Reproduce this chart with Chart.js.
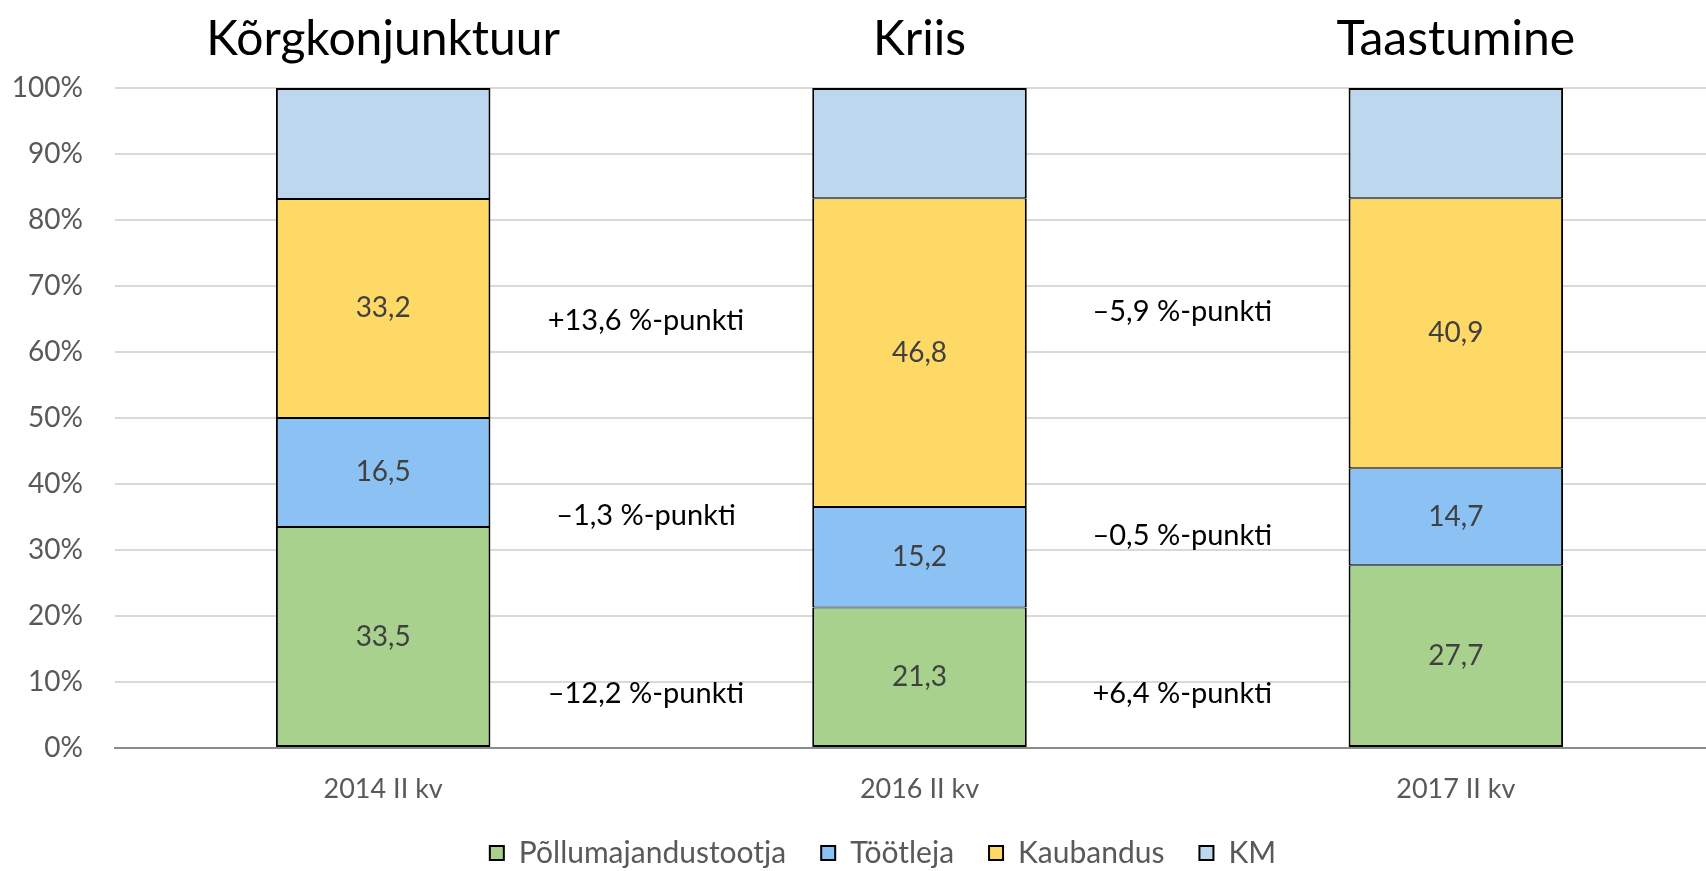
<!DOCTYPE html>
<html>
<head>
<meta charset="utf-8">
<script src="https://cdn.jsdelivr.net/npm/chart.js@4/dist/chart.umd.min.js"></script>
<style>
    html, body { margin: 0; padding: 0; background: #fff; overflow: hidden; }
    #wrap { width: 1726px; height: 878px; }
</style>
</head>
<body>
<div id="wrap"><canvas id="chart"></canvas></div>
<script>
// ============================================
// DATA
// ============================================
const categories = ['2014 II kv', '2016 II kv', '2017 II kv'];
const periodTitles = ['Kõrgkonjunktuur', 'Kriis', 'Taastumine'];

const seriesNames = ['Põllumajandustootja', 'Töötleja', 'Kaubandus', 'KM'];
const pollumajandus = [33.5, 21.3, 27.7];
const tootleja = [16.5, 15.2, 14.7];
const kaubandus = [33.2, 46.8, 40.9];
const km = [16.8, 16.7, 16.7];

const yTicks = [0, 10, 20, 30, 40, 50, 60, 70, 80, 90, 100];

// changes between periods (x in category units, y in %)
const changeTexts = ['+13,6 %-punkti', '\u20131,3 %-punkti', '\u201312,2 %-punkti',
                     '\u20135,9 %-punkti', '\u20130,5 %-punkti', '+6,4 %-punkti'];
const changeX = [0.49, 0.49, 0.49, 1.49, 1.49, 1.49];
const changeY = [64.8, 35.2, 8.2, 66.1, 32.1, 8.2];

const COLORS = ['#A9D18E', '#8BC1F3', '#FFD966', '#BDD7EE'];
const FONT = 'Lato, "Open Sans", sans-serif';

// ============================================
// PLUGINS
// ============================================
const segmentLabels = {
    id: 'segmentLabels',
    afterDatasetsDraw(chart) {
        const ctx = chart.ctx;
        ctx.save();
        ctx.font = `28px ${FONT}`;
        ctx.fillStyle = '#404040';
        ctx.textAlign = 'center';
        ctx.textBaseline = 'middle';
        chart.data.datasets.forEach((ds, i) => {
            if (ds.label === 'KM') return;
            chart.getDatasetMeta(i).data.forEach((bar, j) => {
                const mid = (bar.y + bar.base) / 2;
                ctx.fillText(ds.data[j].toFixed(1).replace('.', ','), bar.x, mid);
            });
        });
        ctx.restore();
    }
};

const extraTexts = {
    id: 'extraTexts',
    afterDraw(chart) {
        const ctx = chart.ctx;
        const x = chart.scales.x;
        const y = chart.scales.y;
        ctx.save();
        ctx.textAlign = 'center';
        ctx.textBaseline = 'middle';

        // period titles above bars
        ctx.font = `48px ${FONT}`;
        ctx.fillStyle = '#000';
        periodTitles.forEach((t, i) => {
            ctx.fillText(t, x.getPixelForValue(i), 40);
        });

        // change notes between bars
        ctx.font = `29px ${FONT}`;
        changeTexts.forEach((t, i) => {
            ctx.fillText(t, x.getPixelForValue(changeX[i]), y.getPixelForValue(changeY[i]));
        });
        ctx.restore();
    }
};

// legend sits a bit right of the canvas centre in the original
const legendShift = {
    id: 'legendShift',
    afterLayout(chart) {
        chart.legend.left += 42;
    }
};

// ============================================
// CHART
// ============================================
const seriesData = [pollumajandus, tootleja, kaubandus, km];
const last = seriesNames.length - 1;

new Chart(document.getElementById('chart'), {
    type: 'bar',
    data: {
        labels: categories,
        datasets: seriesNames.map((name, i) => ({
            label: name,
            data: seriesData[i],
            backgroundColor: COLORS[i],
            borderColor: '#000',
            // inner borders of neighbouring segments add up, so 1px on shared edges
            borderWidth: { left: 2, right: 2, top: i === last ? 2 : 1, bottom: i === 0 ? 2 : 1 },
            borderSkipped: false,
            barPercentage: 1,
            categoryPercentage: 0.4
        }))
    },
    options: {
        responsive: true,
        maintainAspectRatio: false,
        animation: false,
        layout: { padding: { top: 88, left: 0, right: 2, bottom: 0 } },
        plugins: {
            legend: {
                position: 'bottom',
                labels: {
                    font: { family: FONT, size: 30 },
                    color: '#595959',
                    boxWidth: 14,
                    boxHeight: 14,
                    padding: 35,
                    useBorderRadius: false,
                    generateLabels(chart) {
                        return chart.data.datasets.map((ds, i) => ({
                            text: ds.label,
                            fillStyle: ds.backgroundColor,
                            strokeStyle: '#000',
                            lineWidth: 2,
                            fontColor: '#595959',
                            datasetIndex: i,
                            hidden: false
                        }));
                    }
                }
            },
            tooltip: { enabled: false }
        },
        scales: {
            x: {
                stacked: true,
                afterFit(scale) { scale.height = 55; },
                grid: { display: false, drawTicks: false },
                border: { display: true, color: '#8C8C8C', width: 2 },
                ticks: {
                    font: { family: FONT, size: 27 },
                    color: '#595959',
                    padding: 25
                }
            },
            y: {
                stacked: true,
                min: 0,
                max: 100,
                afterFit(scale) { scale.width = 115; },
                afterBuildTicks(scale) { scale.ticks = yTicks.map(v => ({ value: v })); },
                grid: { color: '#D9D9D9', lineWidth: 2, drawTicks: false },
                border: { display: false },
                ticks: {
                    font: { family: FONT, size: 28 },
                    color: '#595959',
                    padding: 32,
                    callback: v => v + '%'
                }
            }
        }
    },
    plugins: [segmentLabels, extraTexts, legendShift]
});
</script>
</body>
</html>
